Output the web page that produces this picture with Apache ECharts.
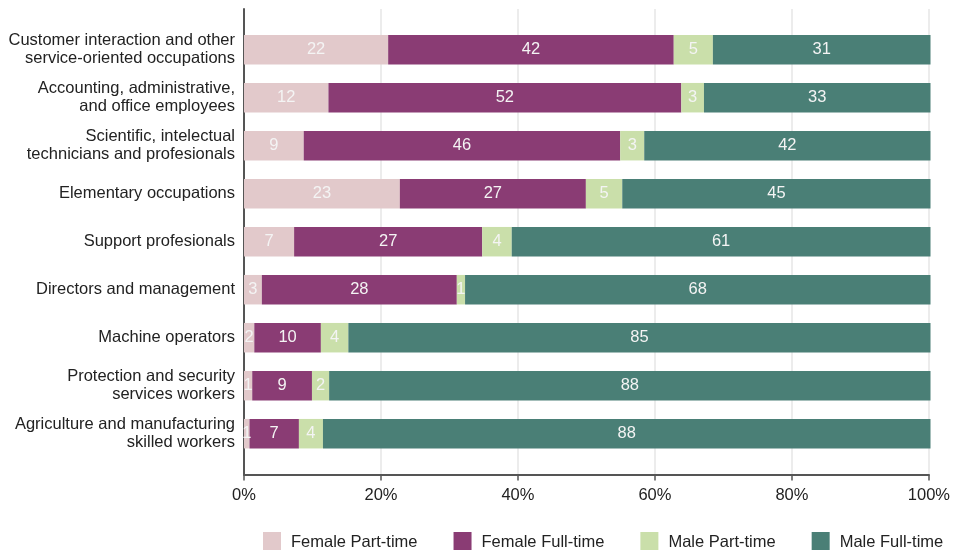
<!DOCTYPE html>
<html>
<head>
<meta charset="utf-8">
<script src="https://cdn.jsdelivr.net/npm/echarts@6/dist/echarts.min.js"></script>
<style>html,body{margin:0;padding:0;background:#fff}#c{width:953px;height:550px}</style>
</head>
<body>
<div id="c"></div>
<script>
var categories = [
  "Customer interaction and other\nservice-oriented occupations",
  "Accounting, administrative,\nand office employees",
  "Scientific, intelectual\ntechnicians and profesionals",
  "Elementary occupations",
  "Support profesionals",
  "Directors and management",
  "Machine operators",
  "Protection and security\nservices workers",
  "Agriculture and manufacturing\nskilled workers"
];
var seriesNames = ["Female Part-time", "Female Full-time", "Male Part-time", "Male Full-time"];
// shares (%) as drawn
var femalePartTime = [21.0, 12.3, 8.7, 22.7, 7.3, 2.6, 1.5, 1.2, 0.8];
var femaleFullTime = [41.6, 51.4, 46.1, 27.1, 27.4, 28.4, 9.7, 8.7, 7.2];
var malePartTime   = [5.7, 3.3, 3.5, 5.3, 4.3, 1.2, 4.0, 2.5, 3.5];
var maleFullTime   = [31.7, 33.0, 41.7, 44.9, 61.0, 67.8, 84.8, 87.6, 88.5];
// printed labels
var femalePartTimeLabels = [22, 12, 9, 23, 7, 3, 2, 1, 1];
var femaleFullTimeLabels = [42, 52, 46, 27, 27, 28, 10, 9, 7];
var malePartTimeLabels   = [5, 3, 3, 5, 4, 1, 4, 2, 4];
var maleFullTimeLabels   = [31, 33, 42, 45, 61, 68, 85, 88, 88];
var xTicks = [0, 20, 40, 60, 80, 100];

var colors = ["#e2c9cb", "#8a3c74", "#cadfaa", "#4a7f76"];
var values = [femalePartTime, femaleFullTime, malePartTime, maleFullTime];
var labels = [femalePartTimeLabels, femaleFullTimeLabels, malePartTimeLabels, maleFullTimeLabels];

var chart = echarts.init(document.getElementById('c'), null, {renderer: 'canvas'});
var font = "Liberation Sans, Arial, sans-serif";
var fs = 16.5;

var series = seriesNames.map(function (name, i) {
  return {
    name: name,
    type: 'bar',
    stack: 'total',
    xAxisIndex: 0,
    yAxisIndex: 0,
    barWidth: 29.5,
    data: values[i],
    itemStyle: {color: colors[i]},
    label: {
      show: true,
      position: 'inside',
      color: '#f4f4f4',
      fontSize: fs,
      fontFamily: font,
      formatter: function (p) { return String(labels[i][p.dataIndex]); }
    },
    emphasis: {disabled: true},
    z: 3
  };
});

chart.setOption({
  animation: false,
  textStyle: {fontFamily: font},
  grid: [
    {left: 244, right: 22.5, top: 25.7, height: 432, containLabel: false},
    {left: 244, right: 22.5, top: 9, bottom: 75.5, containLabel: false}
  ],
  legend: {
    data: seriesNames,
    left: 258,
    top: 527,
    itemWidth: 18,
    itemHeight: 21,
    itemGap: 36,
    icon: 'rect',
    textStyle: {fontSize: fs, color: '#222', fontFamily: font, padding: [0, 0, 0, 5]}
  },
  xAxis: [
    {type: 'value', gridIndex: 0, min: 0, max: 100, show: false},
    {
      type: 'value', gridIndex: 1, min: xTicks[0], max: xTicks[xTicks.length - 1], interval: 20,
      axisLine: {show: true, lineStyle: {color: '#555', width: 2}},
      axisTick: {show: true, length: 6, lineStyle: {color: '#555', width: 1.5}},
      axisLabel: {formatter: '{value}%', fontSize: fs, color: '#222', margin: 12, fontFamily: font},
      splitLine: {show: true, lineStyle: {color: '#e6e6e6', width: 1.5}}
    }
  ],
  yAxis: [
    {
      type: 'category', gridIndex: 0, data: categories, inverse: true,
      axisLine: {show: false}, axisTick: {show: false},
      axisLabel: {fontSize: fs, color: '#222', margin: 9, lineHeight: 18, fontFamily: font, align: 'right'}
    },
    {
      type: 'value', gridIndex: 1, min: 0, max: 1,
      axisLine: {show: true, lineStyle: {color: '#555', width: 2}},
      axisTick: {show: false}, axisLabel: {show: false}, splitLine: {show: false}
    }
  ],
  series: series
});
</script>
</body>
</html>
